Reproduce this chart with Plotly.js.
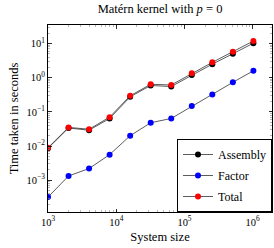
<!DOCTYPE html>
<html>
<head>
<meta charset="utf-8">
<script src="https://cdn.plot.ly/plotly-3.0.1.min.js"></script>
<style>html,body{margin:0;padding:0;background:#fff;}#chart{width:274px;height:248px;}</style>
</head>
<body>
<div id="chart"></div>
<script>
var systemSize = [1000, 2000, 4000, 8000, 16000, 32000, 64000, 128000, 256000, 512000, 1024000];
var assembly = [0.0086, 0.0337, 0.029, 0.064, 0.275, 0.59, 0.55, 1.19, 2.48, 5.0, 10.2];
var factor = [0.00032, 0.00133, 0.0022, 0.0056, 0.020, 0.048, 0.064, 0.147, 0.324, 0.73, 1.59];
var total = [0.0089, 0.035, 0.031, 0.070, 0.295, 0.64, 0.61, 1.34, 2.8, 5.75, 11.8];
var seriesNames = ["Assembly", "Factor", "Total"];
var seriesColors = ["#000000", "#0000ff", "#ff0000"];
var xTickVals = [1e3, 1e4, 1e5, 1e6];
var xTickText = ["10<sup>3</sup>", "10<sup>4</sup>", "10<sup>5</sup>", "10<sup>6</sup>"];
var yTickVals = [1e-3, 1e-2, 1e-1, 1e0, 1e1];
var yTickText = ["10<sup>−3</sup>", "10<sup>−2</sup>", "10<sup>−1</sup>", "10<sup>0</sup>", "10<sup>1</sup>"];

var font = "Liberation Serif, Times New Roman, serif";
var ys = [assembly, factor, total];
var traces = ys.map(function (y, i) {
  return {
    x: systemSize, y: y, name: seriesNames[i], legendgroup: seriesNames[i],
    type: "scatter", mode: "lines+markers",
    line: {color: "rgb(50,50,50)", width: 0.8},
    marker: {color: seriesColors[i], size: 6, line: {width: 0}}
  };
});

var axisCommon = {
  type: "log", showline: true, linecolor: "#000", linewidth: 1, mirror: "ticks",
  ticks: "inside", ticklen: 3.5, tickcolor: "#000", tickwidth: 0.8,
  showgrid: false, zeroline: false,
  tickfont: {family: font, size: 10.5, color: "#000"},
  minor: {ticks: "inside", ticklen: 2, tickcolor: "#888", tickwidth: 0.6, dtick: "D1", showgrid: false}
};

var layout = {
  width: 274, height: 248,
  margin: {l: 48, r: 2, t: 25, b: 36},
  paper_bgcolor: "#fff", plot_bgcolor: "#fff",
  font: {family: font, size: 12, color: "#000"},
  title: {text: "Matérn kernel with <i>p</i> = 0", font: {family: font, size: 12.5, color: "#000"}, x: 0.584, xanchor: "center", y: 0.965, yanchor: "middle"},
  xaxis: Object.assign({}, axisCommon, {
    range: [3, 6.283], tickvals: xTickVals, ticktext: xTickText,
    title: {text: "System size", font: {family: font, size: 12.5, color: "#000"}, standoff: 5}
  }),
  yaxis: Object.assign({}, axisCommon, {
    range: [-3.93, 1.54], tickvals: yTickVals, ticktext: yTickText,
    title: {text: "Time taken in seconds", font: {family: font, size: 12.5, color: "#000"}, standoff: 5}
  }),
  showlegend: true,
  legend: {
    x: 1, y: 0, xanchor: "right", yanchor: "bottom",
    bgcolor: "#fff", bordercolor: "#000", borderwidth: 1,
    font: {family: font, size: 12, color: "#000"},
    itemwidth: 30, tracegroupgap: 2
  }
};

Plotly.newPlot("chart", traces, layout, {staticPlot: true, displayModeBar: false});
</script>
</body>
</html>
